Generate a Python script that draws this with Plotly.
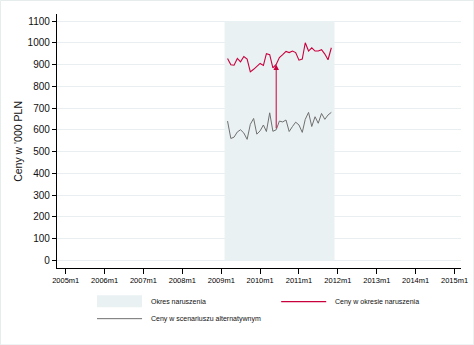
import pandas as pd
import plotly.graph_objects as go

# Monthly observations, 2009m3 - 2011m11
months = pd.date_range("2009-03-01", "2011-11-01", freq="MS")
ceny_naruszenie = [928, 899, 897, 928, 912, 937, 925, 866, 878, 892, 905, 896,
                   950, 945, 885, 900, 932, 945, 960, 955, 962, 955, 920, 925,
                   1000, 962, 977, 962, 962, 968, 948, 922, 977]
ceny_alternatywne = [640, 560, 566, 590, 600, 585, 556, 625, 652, 580, 595, 622,
                     592, 678, 593, 600, 640, 636, 645, 592, 615, 635, 622, 588,
                     648, 680, 615, 660, 630, 675, 648, 668, 680]

# Infringement period (shaded band)
okres_start = "2009-02-01"
okres_end = "2011-12-01"
okres_top = 1100

# Month at which the overcharge arrow is drawn
arrow_month = "2010-06-01"

# Axis ticks
x_tickvals = [f"{y}-01-01" for y in range(2005, 2016)]
x_ticktext = [f"{y}m1" for y in range(2005, 2016)]
y_tickvals = list(range(0, 1101, 100))

RED = "#C8003C"
GRAY = "#707070"
SHADE = "#EAF1F3"
GRID = "#E9EFF0"

fig = go.Figure()

fig.add_trace(go.Scatter(
    x=[okres_start, okres_start, okres_end, okres_end, okres_start],
    y=[0, okres_top, okres_top, 0, 0],
    fill="toself", fillcolor=SHADE, mode="lines", line=dict(width=0),
    hoverinfo="skip", showlegend=False,
))
fig.add_trace(go.Scatter(
    x=months, y=ceny_alternatywne, mode="lines",
    line=dict(color=GRAY, width=1), showlegend=False,
))
fig.add_trace(go.Scatter(
    x=months, y=ceny_naruszenie, mode="lines",
    line=dict(color=RED, width=1.1), showlegend=False,
))

# Overcharge arrow from the counterfactual price up to the actual price
idx = list(months.strftime("%Y-%m-%d")).index(arrow_month)
fig.add_annotation(
    x=arrow_month, y=ceny_naruszenie[idx],
    ax=arrow_month, ay=ceny_alternatywne[idx],
    xref="x", yref="y", axref="x", ayref="y",
    showarrow=True, arrowhead=2, arrowsize=1.1, arrowwidth=1,
    arrowcolor=RED, text="",
)

# Axis title
fig.add_annotation(
    text="Ceny w '000 PLN", xref="paper", yref="paper",
    x=-0.097, y=0.5, xanchor="center", yanchor="middle",
    textangle=-90, showarrow=False,
    font=dict(family="Liberation Sans, Arial", size=10.5, color="#111111"),
)

# Legend (drawn below the plot)
px_w, px_h = 403.7, 253.7
def px(xp):
    return (xp - 57) / px_w
def py(yp):
    return (267.7 - yp) / px_h

fig.add_shape(type="rect", xref="paper", yref="paper",
              x0=px(97), x1=px(142), y0=py(307), y1=py(295),
              fillcolor=SHADE, line=dict(width=0))
fig.add_shape(type="line", xref="paper", yref="paper",
              x0=px(281), x1=px(326), y0=py(301.3), y1=py(301.3),
              line=dict(color=RED, width=1.1))
fig.add_shape(type="line", xref="paper", yref="paper",
              x0=px(97), x1=px(142), y0=py(318.3), y1=py(318.3),
              line=dict(color=GRAY, width=1))
legend_font = dict(family="Liberation Sans, Arial", size=7, color="#111111")
for text, xx, yy in [("Okres naruszenia", 149, 301.3),
                     ("Ceny w okresie naruszenia", 333, 301.3),
                     ("Ceny w scenariuszu alternatywnym", 149, 318.3)]:
    fig.add_annotation(text=text, xref="paper", yref="paper",
                       x=px(xx), y=py(yy), xanchor="left", yanchor="middle",
                       showarrow=False, font=legend_font)

# Faint outer frame
fig.add_shape(type="rect", xref="paper", yref="paper",
              x0=px(0.5), x1=px(473.5), y0=py(344.5), y1=py(0.5),
              line=dict(color="#E6ECEC", width=1))

fig.update_layout(
    width=474, height=345,
    margin=dict(l=57, r=13.3, t=14, b=77.3, autoexpand=False),
    paper_bgcolor="white", plot_bgcolor="white",
    showlegend=False,
    font=dict(family="Liberation Sans, Arial", color="#111111"),
    xaxis=dict(
        type="date", automargin=False,
        range=["2004-10-11", "2015-03-03"],
        tickvals=x_tickvals, ticktext=x_ticktext,
        ticks="outside", ticklen=5, tickwidth=1, tickcolor="black",
        showline=True, linecolor="black", linewidth=1.3,
        showgrid=False, zeroline=False,
        tickfont=dict(size=7.5, color="#000000"),
    ),
    yaxis=dict(
        automargin=False,
        range=[-35.4, 1132.2],
        tickvals=y_tickvals,
        ticks="outside", ticklen=4, tickwidth=1, tickcolor="black",
        showline=True, linecolor="black", linewidth=1.3,
        showgrid=True, gridcolor=GRID, gridwidth=1, zeroline=False,
        tickfont=dict(size=10, color="#111111"),
    ),
)

fig.write_html("out.html")
